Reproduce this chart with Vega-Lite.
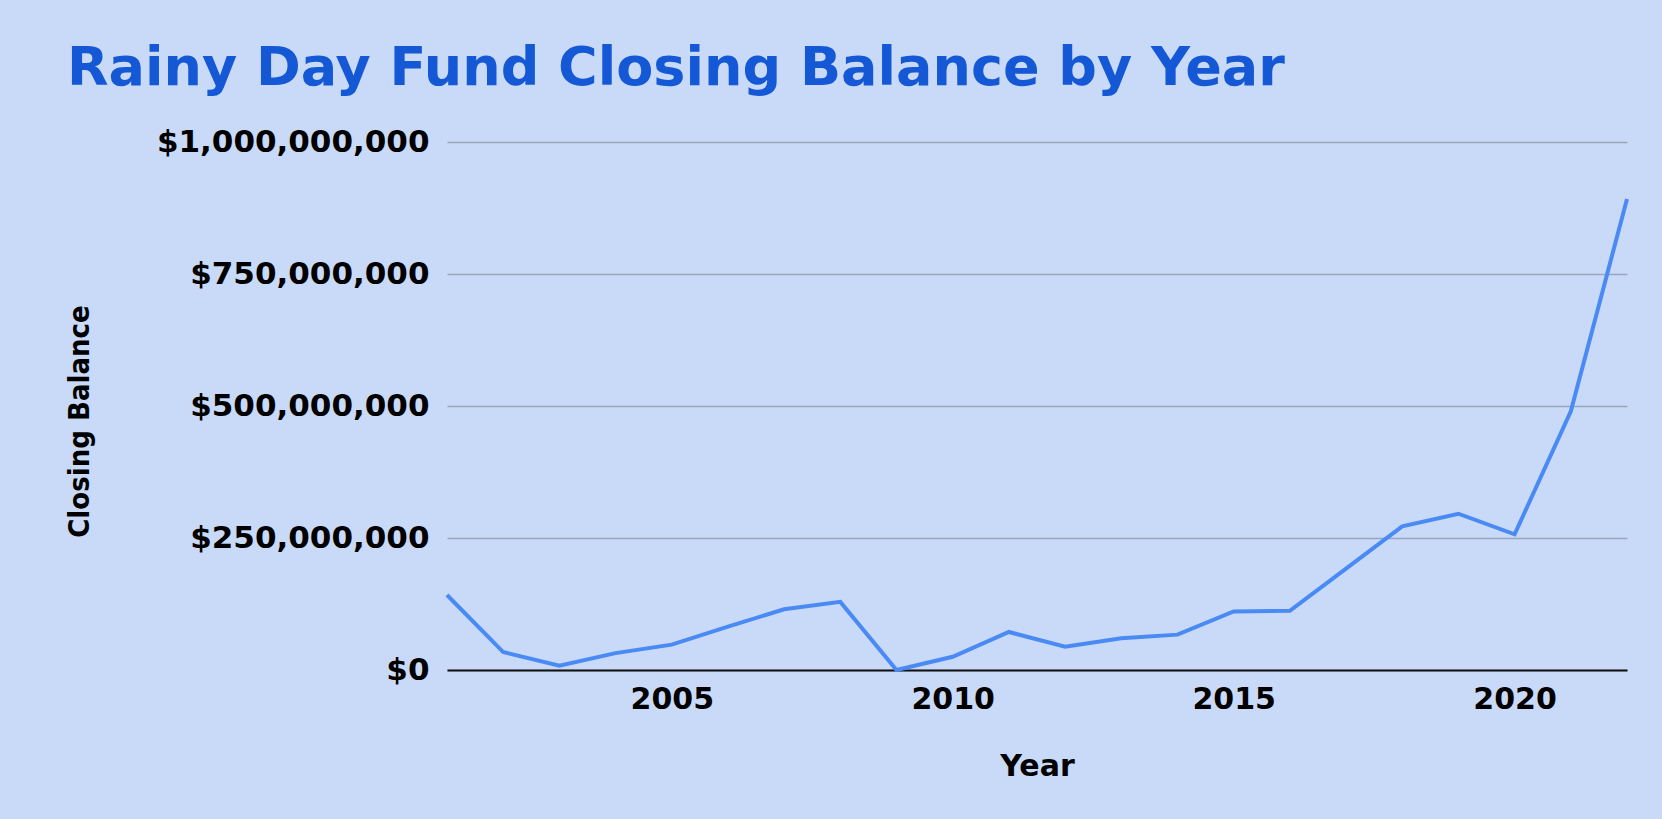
{
  "$schema": "https://vega.github.io/schema/vega-lite/v6.json",
  "autosize": {"type": "none"},
  "width": 1180,
  "height": 528,
  "padding": {"left": 447, "top": 142, "right": 35, "bottom": 149},
  "background": "#c9daf8",
  "title": {
    "text": "Rainy Day Fund Closing Balance by Year",
    "anchor": "start",
    "frame": "group",
    "font": "DejaVu Sans",
    "fontWeight": "bold",
    "fontSize": 54,
    "color": "#1558d6",
    "baseline": "alphabetic",
    "dx": -380,
    "offset": -13
  },
  "data": {
    "values": [
      {"Year": 2001, "Closing Balance": 142000000},
      {"Year": 2002, "Closing Balance": 34000000},
      {"Year": 2003, "Closing Balance": 8000000},
      {"Year": 2004, "Closing Balance": 32000000},
      {"Year": 2005, "Closing Balance": 48000000},
      {"Year": 2006, "Closing Balance": 82000000},
      {"Year": 2007, "Closing Balance": 115000000},
      {"Year": 2008, "Closing Balance": 129000000},
      {"Year": 2009, "Closing Balance": 0},
      {"Year": 2010, "Closing Balance": 25000000},
      {"Year": 2011, "Closing Balance": 72000000},
      {"Year": 2012, "Closing Balance": 44000000},
      {"Year": 2013, "Closing Balance": 60000000},
      {"Year": 2014, "Closing Balance": 67000000},
      {"Year": 2015, "Closing Balance": 111000000},
      {"Year": 2016, "Closing Balance": 112000000},
      {"Year": 2017, "Closing Balance": 192000000},
      {"Year": 2018, "Closing Balance": 272000000},
      {"Year": 2019, "Closing Balance": 296000000},
      {"Year": 2020, "Closing Balance": 257000000},
      {"Year": 2021, "Closing Balance": 490000000},
      {"Year": 2022, "Closing Balance": 892000000}
    ]
  },
  "mark": {"type": "line", "color": "#4a8af4", "strokeWidth": 4},
  "encoding": {
    "x": {
      "field": "Year",
      "type": "quantitative",
      "scale": {"domain": [2001, 2022], "nice": false, "zero": false},
      "axis": {
        "values": [2005, 2010, 2015, 2020],
        "format": "d",
        "grid": false,
        "ticks": false,
        "domain": true,
        "domainColor": "#111111",
        "domainWidth": 2,
        "labelFont": "DejaVu Sans",
        "labelFontWeight": "bold",
        "labelFontSize": 30,
        "labelColor": "#000000",
        "labelPadding": 14,
        "labelLimit": 0,
        "title": "Year",
        "titleFont": "DejaVu Sans",
        "titleFontWeight": "bold",
        "titleFontSize": 30,
        "titleColor": "#000000",
        "titlePadding": 37
      }
    },
    "y": {
      "field": "Closing Balance",
      "type": "quantitative",
      "scale": {"domain": [0, 1000000000], "nice": false},
      "axis": {
        "values": [0, 250000000, 500000000, 750000000, 1000000000],
        "format": "$,.0f",
        "grid": true,
        "gridColor": "#98a6bd",
        "gridWidth": 1.5,
        "ticks": false,
        "domain": false,
        "labelFont": "DejaVu Sans",
        "labelFontWeight": "bold",
        "labelFontSize": 31,
        "labelColor": "#000000",
        "labelPadding": 18,
        "labelLimit": 0,
        "title": "Closing Balance",
        "titleFont": "Liberation Sans Narrow, DejaVu Sans Condensed, sans-serif",
        "titleFontWeight": "bold",
        "titleFontSize": 29,
        "titleColor": "#000000",
        "titleAngle": -90,
        "titleBaseline": "middle",
        "titleAlign": "center",
        "titleX": -368,
        "titleY": 279
      }
    }
  },
  "config": {"view": {"stroke": null}}
}
